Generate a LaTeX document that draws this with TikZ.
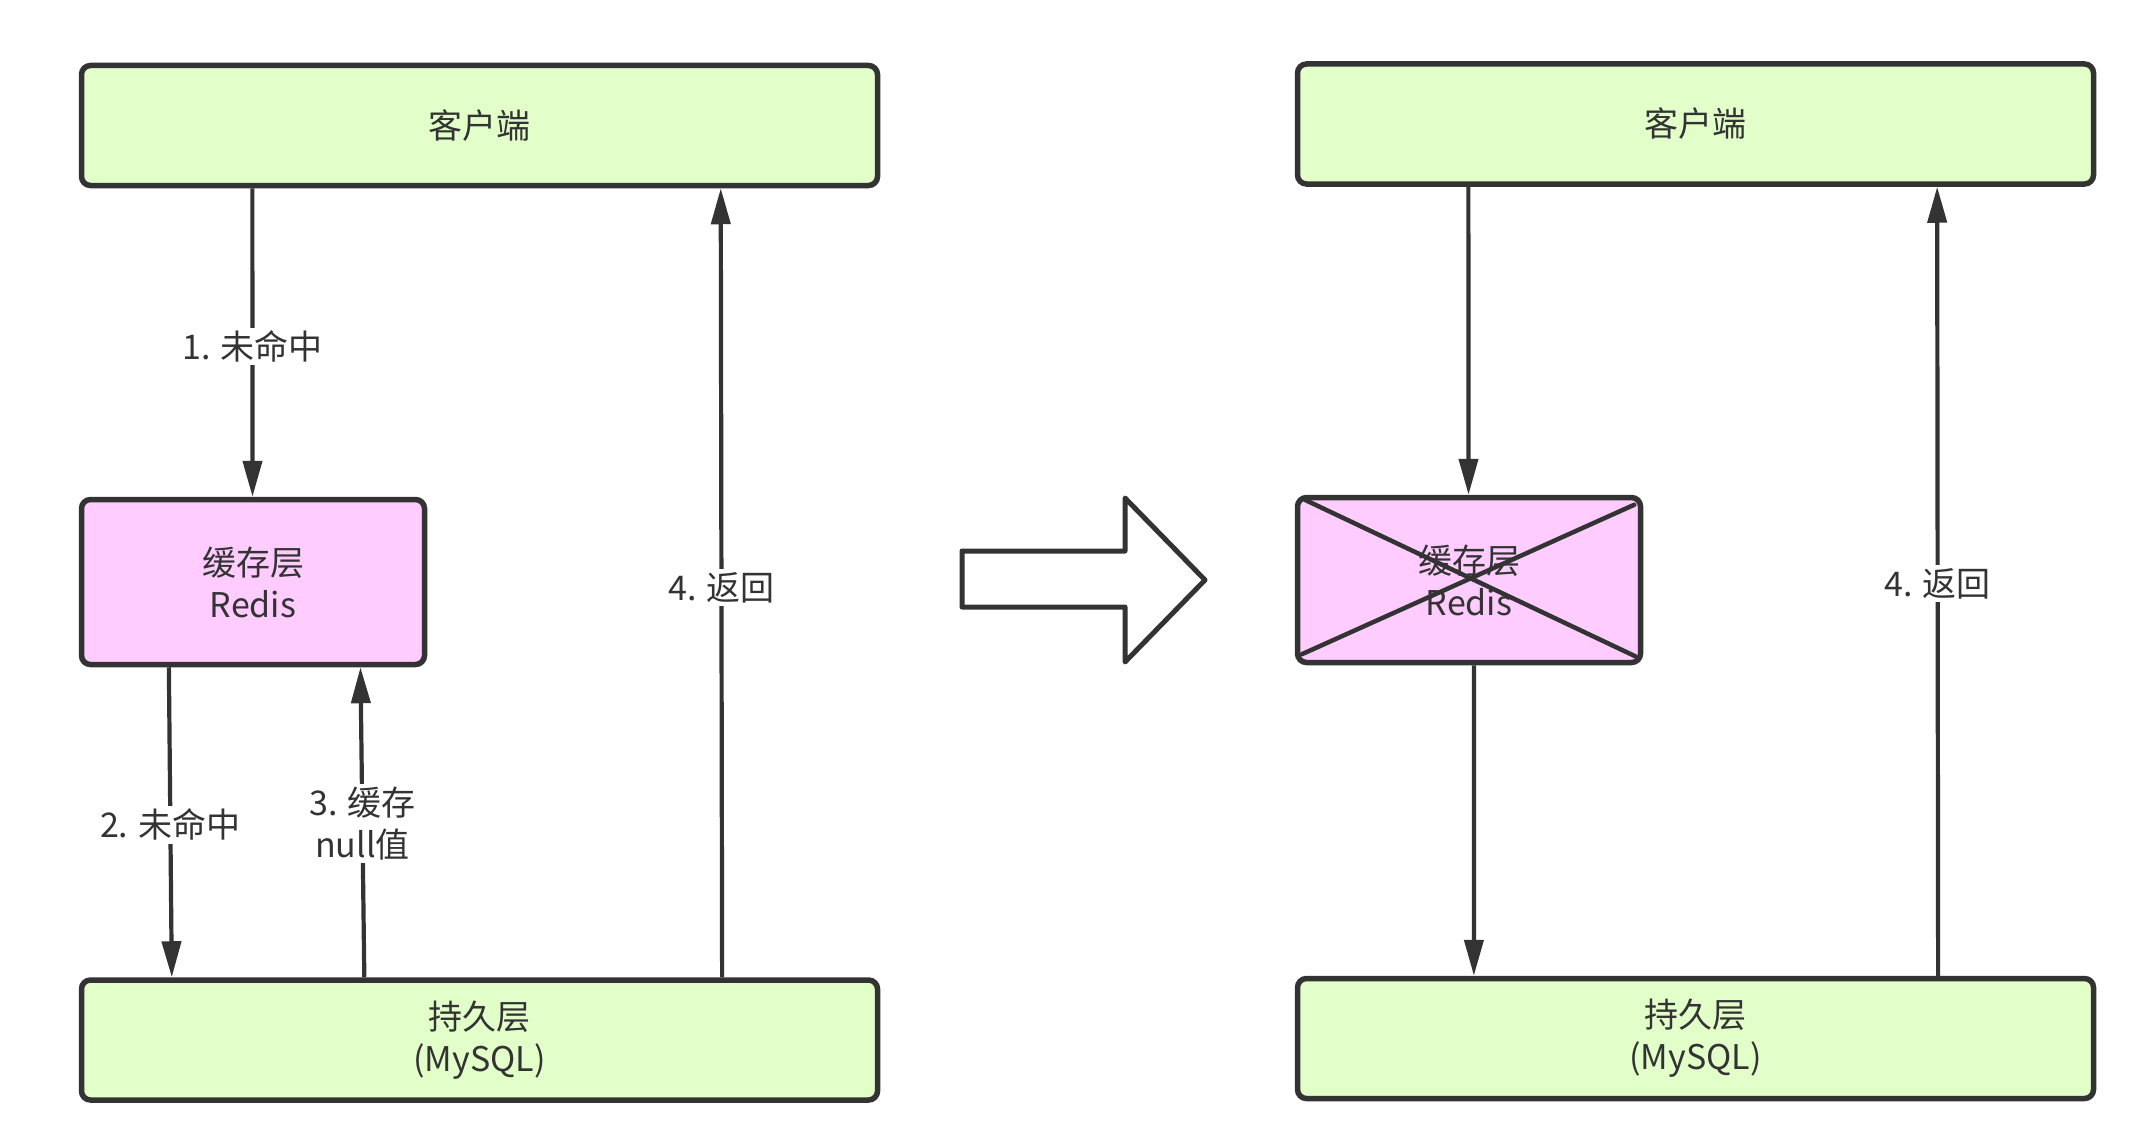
\documentclass[tikz,border=0pt]{standalone}
\usepackage{fontspec}
\setmainfont{Noto Sans CJK SC}
\usetikzlibrary{arrows.meta,calc}
\definecolor{stroke}{HTML}{333333}
\definecolor{boxgreen}{HTML}{E2FFCA}
\definecolor{boxpink}{HTML}{FECCFE}
\begin{document}
\begin{tikzpicture}[x=1pt,y=-1pt,
  box/.style={draw=stroke, line width=5.5pt, rounded corners=9pt, align=center,
    font=\fontsize{34}{42}\selectfont, text=stroke, inner sep=0pt},
  greenbox/.style={box, fill=boxgreen, minimum width=796pt, minimum height=120pt},
  pinkbox/.style={box, fill=boxpink, minimum width=343pt, minimum height=165pt},
  conn/.style={draw=stroke, line width=4.2pt, -{Triangle[length=36pt,width=19pt]}},
  lbl/.style={fill=white, text=stroke, font=\fontsize{34}{42}\selectfont,
    align=center, inner sep=3pt},
  cross/.style={draw=stroke, line width=4.5pt, line cap=round},
  bigarrow/.style={draw=stroke, line width=5pt, line join=round, fill=white}
]
\fill[white] (0,0) rectangle (2140,1145);
\useasboundingbox (0,0) rectangle (2140,1145);

% left side
\node[greenbox] (lc) at (479.5,125.5) {客户端};
\node[pinkbox]  (lk) at (253,582) {缓存层\\Redis};
\node[greenbox] (lp) at (479.5,1040) {持久层\\(MySQL)};

\draw[conn] ($(lc.south west)!0.2166!(lc.south east)$) --
  node[lbl, pos=0.513] {1. 未命中} ($(lk.north west)!0.4986!(lk.north east)$);
\draw[conn] ($(lk.south west)!0.2586!(lk.south east)$) --
  node[lbl, pos=0.508] {2. 未命中} ($(lp.north west)!0.1161!(lp.north east)$);
\draw[conn] ($(lp.north west)!0.3563!(lp.north east)$) --
  node[lbl, pos=0.495] {3. 缓存\\null值} ($(lk.south west)!0.8083!(lk.south east)$);
\draw[conn] ($(lp.north west)!0.8027!(lp.north east)$) --
  node[lbl, pos=0.494] {4. 返回} ($(lc.south west)!0.801!(lc.south east)$);

% big arrow
\draw[bigarrow] (962,551) -- (1125,551) -- (1125,498) -- (1205,580)
  -- (1125,662) -- (1125,607) -- (962,607) -- cycle;

% right side
\node[greenbox] (rc) at (1695.5,124) {客户端};
\node[pinkbox]  (rk) at (1469,580) {缓存层\\Redis};
\node[greenbox] (rp) at (1695.5,1038.5) {持久层\\(MySQL)};

\draw[cross] ($(rk.north west)+(10,5)$) -- ($(rk.south east)+(-8,-9)$);
\draw[cross] ($(rk.north east)+(-9,10)$) -- ($(rk.south west)+(7,-11)$);

\draw[conn] ($(rc.south west)!0.2166!(rc.south east)$) --
  ($(rk.north west)!0.4986!(rk.north east)$);
\draw[conn] ($(rk.south west)!0.5144!(rk.south east)$) --
  ($(rp.north west)!0.2235!(rp.north east)$);
\draw[conn] ($(rp.north west)!0.8027!(rp.north east)$) --
  node[lbl, pos=0.497] {4. 返回} ($(rc.south west)!0.8015!(rc.south east)$);
\end{tikzpicture}
\end{document}
